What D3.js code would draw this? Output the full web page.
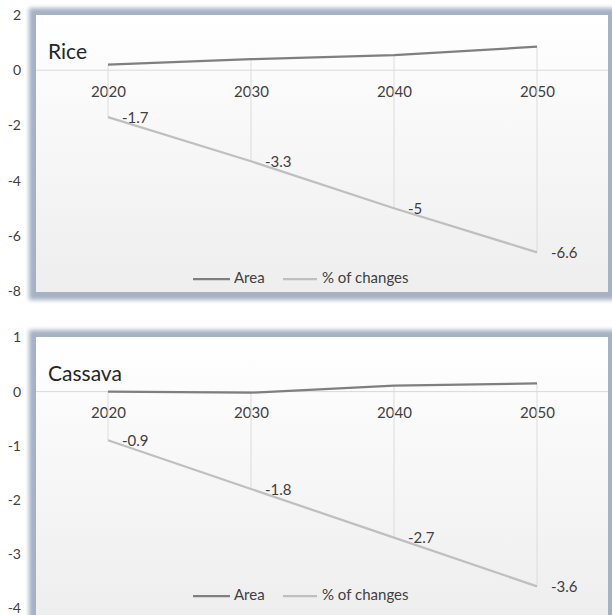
<!DOCTYPE html>
<html>
<head>
<meta charset="utf-8">
<script src="https://cdn.jsdelivr.net/npm/d3@7/dist/d3.min.js"></script>
<style>
  html, body { margin: 0; padding: 0; background: #ffffff; }
  svg { display: block; font-family: Lato, "Open Sans", sans-serif; }
</style>
</head>
<body>
<svg id="chart" width="612" height="615"></svg>
<script>
// Years on the category axis
const years = ["2020", "2030", "2040", "2050"];

// Rice panel
const riceArea = [0.2, 0.4, 0.55, 0.85];
const riceChange = [-1.7, -3.3, -5, -6.6];
const riceTicks = [2, 0, -2, -4, -6, -8];

// Cassava panel
const cassavaArea = [0, -0.02, 0.11, 0.15];
const cassavaChange = [-0.9, -1.8, -2.7, -3.6];
const cassavaTicks = [1, 0, -1, -2, -3, -4];

const seriesNames = ["Area", "% of changes"];

const svg = d3.select("#chart");
const defs = svg.append("defs");

const grad = defs.append("linearGradient")
  .attr("id", "panelFill").attr("x1", 0).attr("y1", 0).attr("x2", 0).attr("y2", 1);
grad.append("stop").attr("offset", "0%").attr("stop-color", "#ffffff");
grad.append("stop").attr("offset", "100%").attr("stop-color", "#eeeeee");

const blur = defs.append("filter").attr("id", "frameBlur")
  .attr("x", "-10%").attr("y", "-10%").attr("width", "120%").attr("height", "120%");
blur.append("feGaussianBlur").attr("stdDeviation", 2.2);

const colors = { area: "#7f7f7f", change: "#bfbfbf", drop: "#dcdcdc", text: "#404040" };
const plain = d => String(d);   // keep ASCII hyphen for negatives

function panel(cfg) {
  const g = svg.append("g");
  const { x0, y0, w, h } = cfg;

  // soft frame around the plot box
  g.append("rect")
    .attr("x", x0 - 7).attr("y", y0 - 7)
    .attr("width", w + 16).attr("height", h + 15)
    .attr("fill", "#a5b2c5")
    .attr("filter", "url(#frameBlur)");
  g.append("rect")
    .attr("x", x0).attr("y", y0).attr("width", w).attr("height", h)
    .attr("fill", "url(#panelFill)");

  const x = d3.scalePoint().domain(years).range([108, 537]);
  const y = d3.scaleLinear().domain(cfg.domain).range(cfg.yRange);

  // value axis labels (outside the box, no line)
  const yAxis = d3.axisLeft(y).tickValues(cfg.ticks).tickSize(0).tickPadding(0)
    .tickFormat(plain);
  const ya = g.append("g").attr("transform", "translate(21,0)").call(yAxis);
  ya.select(".domain").remove();
  ya.selectAll("text").attr("fill", colors.text).style("font-size", "14px")
    .style("font-family", "Lato, sans-serif");

  // zero line
  g.append("line")
    .attr("x1", x0).attr("x2", x0 + w)
    .attr("y1", y(0)).attr("y2", y(0))
    .attr("stroke", "#d9d9d9").attr("stroke-width", 1);

  // category labels just below the zero line
  const xAxis = d3.axisBottom(x).tickSize(0).tickPadding(0);
  const xa = g.append("g").attr("transform", `translate(0,${y(0) + 16})`).call(xAxis);
  xa.select(".domain").remove();
  xa.selectAll("text").attr("fill", colors.text).style("font-size", "15px")
    .style("font-family", "Lato, sans-serif");

  // high-low lines between the two series
  g.append("g").selectAll("line").data(years).join("line")
    .attr("x1", d => x(d)).attr("x2", d => x(d))
    .attr("y1", (d, i) => y(cfg.area[i]))
    .attr("y2", (d, i) => y(cfg.change[i]))
    .attr("stroke", colors.drop).attr("stroke-width", 1);

  const line = d3.line().x((d, i) => x(years[i])).y(d => y(d));

  g.append("path").datum(cfg.area).attr("d", line)
    .attr("fill", "none").attr("stroke", colors.area).attr("stroke-width", 2.25);
  g.append("path").datum(cfg.change).attr("d", line)
    .attr("fill", "none").attr("stroke", colors.change).attr("stroke-width", 2.25);

  // data labels on the change series
  g.append("g").selectAll("text").data(cfg.change).join("text")
    .attr("x", (d, i) => x(years[i]) + 14)
    .attr("y", d => y(d) + 2)
    .attr("dominant-baseline", "middle")
    .attr("fill", colors.text).style("font-size", "15px")
    .text(plain);

  // title
  g.append("text")
    .attr("x", 48).attr("y", cfg.titleY)
    .attr("fill", "#262626").style("font-size", "21px")
    .text(cfg.title);

  // legend
  const ly = cfg.legendY;
  const lg = g.append("g");
  const items = [
    { name: seriesNames[0], color: colors.area, x1: 193, x2: 230, tx: 234 },
    { name: seriesNames[1], color: colors.change, x1: 283, x2: 317, tx: 322 }
  ];
  items.forEach(it => {
    lg.append("line").attr("x1", it.x1).attr("x2", it.x2).attr("y1", ly).attr("y2", ly)
      .attr("stroke", it.color).attr("stroke-width", 2.25);
    lg.append("text").attr("x", it.tx).attr("y", ly)
      .attr("dominant-baseline", "middle")
      .attr("fill", colors.text).style("font-size", "15px")
      .text(it.name);
  });
}

panel({
  x0: 36, y0: 15, w: 572, h: 277,
  domain: [-8, 2], yRange: [291, 15], ticks: riceTicks,
  area: riceArea, change: riceChange,
  title: "Rice", titleY: 59, legendY: 279
});

panel({
  x0: 36, y0: 337, w: 572, h: 280,
  domain: [-4, 1], yRange: [608, 337.5], ticks: cassavaTicks,
  area: cassavaArea, change: cassavaChange,
  title: "Cassava", titleY: 381, legendY: 596
});
</script>
</body>
</html>
